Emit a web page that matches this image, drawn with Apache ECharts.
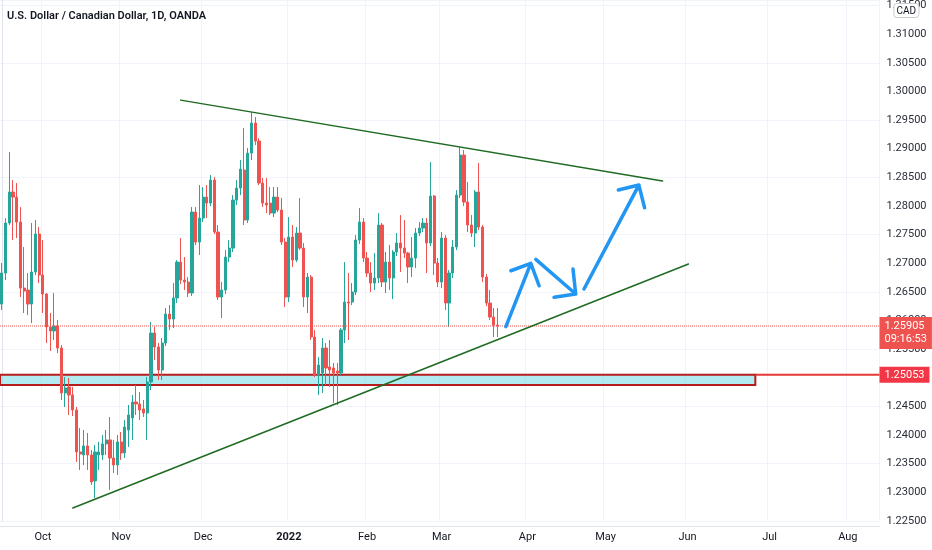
<!DOCTYPE html>
<html>
<head>
<meta charset="utf-8">
<title>USDCAD 1D</title>
<script src="https://cdn.jsdelivr.net/npm/echarts@6/dist/echarts.min.js"></script>
<style>
html, body { margin: 0; padding: 0; background: #fff; }
#chart { width: 932px; height: 550px; }
</style>
</head>
<body>
<div id="chart"></div>
<script>
// daily bars from 2021-09-16, 236 slots on the time scale (the last ones stay empty)
var firstDay = '2021-09-16';
var slotCount = 236;

var open = [1.26288,1.26829,1.27702,1.28243,1.28155,1.27719,1.26567,1.26532,1.26288,1.26847,
    1.27510,1.26794,1.26463,1.25887,1.25817,1.25904,1.25520,1.24735,1.24840,1.24700,
    1.24438,1.23705,1.23653,1.23810,1.23653,1.23199,1.23653,1.23653,1.23845,1.23915,
    1.23600,1.23478,1.23880,1.23688,1.24089,1.24298,1.24578,1.24543,1.24456,1.24386,
    1.24927,1.25782,1.25538,1.25136,1.25607,1.26113,1.26026,1.26393,1.27021,1.26707,
    1.26672,1.26480,1.27894,1.27370,1.27789,1.28155,1.28051,1.28452,1.27545,1.26410,
    1.26532,1.27108,1.27265,1.28103,1.28312,1.28627,1.27754,1.28923,1.29447,1.29133,
    1.28400,1.28051,1.28051,1.27876,1.28155,1.27929,1.27370,1.26410,1.27457,1.27056,
    1.27527,1.27265,1.26410,1.26759,1.25712,1.25049,1.25084,1.25520,1.25189,1.25171,
    1.25119,1.25084,1.25834,1.26323,1.26323,1.26497,1.27405,1.27719,1.27091,1.26829,
    1.26654,1.26742,1.27667,1.26672,1.27021,1.26742,1.27196,1.27353,1.27265,1.27178,
    1.26934,1.27091,1.27527,1.27614,1.27702,1.27353,1.28173,1.27004,1.26672,1.27440,
    1.26305,1.26829,1.27283,1.28190,1.28888,1.28068,1.27667,1.27527,1.28243,1.27632,
    1.26759,1.26305,1.26061,1.25921];
var close = [1.26829,1.27702,1.28243,1.28155,1.27719,1.26567,1.26515,1.26288,1.26847,1.27510,
    1.26794,1.26463,1.25887,1.25817,1.25904,1.25520,1.24735,1.24822,1.24700,1.24438,
    1.23705,1.23670,1.23810,1.23653,1.23182,1.23705,1.23705,1.23845,1.23915,1.23600,
    1.23478,1.23880,1.23688,1.24141,1.24351,1.24578,1.24543,1.24438,1.24386,1.24927,
    1.25782,1.25538,1.25136,1.25607,1.26113,1.26026,1.26393,1.27021,1.26707,1.26672,
    1.26480,1.27894,1.27370,1.27789,1.28155,1.28051,1.28452,1.27545,1.26410,1.26532,
    1.27108,1.27265,1.28103,1.28312,1.28644,1.27754,1.28923,1.29447,1.29133,1.28400,
    1.28051,1.28016,1.27876,1.28155,1.27929,1.27370,1.26410,1.27457,1.27056,1.27527,
    1.27265,1.26410,1.26759,1.25712,1.25049,1.25223,1.25520,1.25171,1.25136,1.25084,
    1.25084,1.25834,1.26323,1.26305,1.26497,1.27405,1.27719,1.27091,1.26829,1.26654,
    1.26742,1.27667,1.26672,1.27021,1.26742,1.27196,1.27353,1.27265,1.27178,1.26934,
    1.27091,1.27527,1.27614,1.27702,1.27353,1.28173,1.27004,1.26672,1.27440,1.26305,
    1.26829,1.27283,1.28190,1.28888,1.28068,1.27667,1.27527,1.28243,1.27632,1.26759,
    1.26305,1.26061,1.25921,1.25905];
var low = [1.26183,1.26707,1.27667,1.27405,1.27440,1.26410,1.26131,1.26096,1.25956,1.26794,
    1.26654,1.26131,1.25607,1.25468,1.25660,1.25433,1.24613,1.24490,1.24351,1.24333,
    1.23531,1.23391,1.23478,1.23391,1.23129,1.22902,1.23391,1.23566,1.23653,1.23042,
    1.23339,1.23304,1.23566,1.23600,1.23792,1.23915,1.24351,1.24264,1.24316,1.23915,
    1.24787,1.25311,1.24962,1.24962,1.25555,1.25834,1.25869,1.26305,1.26637,1.26532,
    1.26410,1.26428,1.27318,1.27143,1.27719,1.27789,1.27998,1.27510,1.26358,1.26044,
    1.26463,1.27021,1.27196,1.28016,1.28190,1.27667,1.27702,1.28801,1.29063,1.28365,
    1.27981,1.27876,1.27841,1.27806,1.27894,1.27318,1.26236,1.26323,1.26934,1.27021,
    1.27230,1.26236,1.26131,1.25660,1.25014,1.24700,1.24735,1.24874,1.24840,1.24560,
    1.24525,1.25049,1.25607,1.25660,1.26271,1.26445,1.27335,1.27021,1.26759,1.26497,
    1.26532,1.26654,1.26585,1.26480,1.26532,1.26375,1.27126,1.26847,1.27091,1.26654,
    1.26759,1.26916,1.27475,1.27545,1.26829,1.27300,1.26794,1.26585,1.26567,1.26183,
    1.25887,1.26742,1.27230,1.28138,1.27998,1.27545,1.27457,1.27283,1.27579,1.26672,
    1.26253,1.26009,1.25712,1.25712];
var high = [1.27004,1.27789,1.28941,1.28452,1.28400,1.27981,1.27283,1.26829,1.27702,1.27754,
    1.27632,1.27405,1.26480,1.26131,1.26480,1.26009,1.25573,1.25014,1.24997,1.24840,
    1.24490,1.24124,1.24089,1.24037,1.23740,1.23827,1.23880,1.24002,1.24089,1.24316,
    1.23915,1.24002,1.24054,1.24264,1.24525,1.24700,1.24874,1.24752,1.24613,1.25014,
    1.25974,1.25887,1.25607,1.25695,1.26218,1.26271,1.26654,1.27056,1.27440,1.27108,
    1.26759,1.27981,1.27981,1.28365,1.28330,1.28365,1.28539,1.28504,1.27667,1.26672,
    1.27230,1.27405,1.28190,1.28452,1.28801,1.29360,1.29011,1.29639,1.29552,1.29185,
    1.28487,1.28487,1.28330,1.28330,1.28330,1.28138,1.27440,1.27806,1.27667,1.27632,
    1.28138,1.27353,1.26829,1.26794,1.25834,1.25363,1.25695,1.25607,1.25660,1.25258,
    1.25258,1.25869,1.27021,1.26829,1.26654,1.27492,1.27963,1.27789,1.27196,1.27021,
    1.27178,1.27876,1.27702,1.27196,1.27318,1.27230,1.27527,1.27841,1.27754,1.27196,
    1.27457,1.27614,1.27719,1.27789,1.27789,1.28766,1.28190,1.27091,1.27545,1.27492,
    1.26881,1.27405,1.28278,1.29028,1.28976,1.28417,1.27841,1.28278,1.28749,1.27667,
    1.26812,1.26532,1.26218,1.26218];

var lastPrice = 1.25905;
var countdown = '09:16:53';

// drawings, as [bar index, price]
var upperTrend = [[47.96, 1.29848], [177.28, 1.28435]];
var lowerTrend = [[19.04, 1.22728], [184.24, 1.26986]];
var arrow1 = [[135.24, 1.25892], [141.94, 1.26998], [136.58, 1.26869], [141.94, 1.26998], [144.16, 1.26607]];
var arrow2 = [[143.28, 1.27068], [153.98, 1.26463], [148.17, 1.26405], [153.98, 1.26463], [153.26, 1.26899]];
var arrow3 = [[156.21, 1.26550], [170.93, 1.28365], [165.42, 1.28278], [170.93, 1.28365], [172.46, 1.27969]];
var zoneTop = 1.25053;
var zoneBottom = 1.24874;
var zoneStart = -0.5;
var zoneEnd = 202.18;

var monthNames = ['Jan','Feb','Mar','Apr','May','Jun','Jul','Aug','Sep','Oct','Nov','Dec'];

function weekdays(start, n) {
    var out = [];
    var d = new Date(start + 'T00:00:00Z');
    while (out.length < n) {
        var w = d.getUTCDay();
        if (w !== 0 && w !== 6) out.push(d.toISOString().slice(0, 10));
        d.setUTCDate(d.getUTCDate() + 1);
    }
    return out;
}

var dates = weekdays(firstDay, slotCount);
var monthStart = {};
for (var i = 1; i < dates.length; ++i) {
    if (dates[i].slice(0, 7) !== dates[i - 1].slice(0, 7)) monthStart[i] = true;
}
function isMonthStart(index) { return !!monthStart[index]; }

var candles = [];
for (var j = 0; j < open.length; ++j) {
    candles.push([open[j], close[j], low[j], high[j]]);
}

var green = '#1e6b22';
var blue = '#2196f3';

function drawLine(points, color, width) {
    return {
        type: 'line',
        xAxisIndex: 1,
        data: points,
        symbol: 'none',
        silent: true,
        z: 5,
        lineStyle: { color: color, width: width, cap: 'round', join: 'round' }
    };
}

var chart = echarts.init(document.getElementById('chart'));
chart.setOption({
    animation: false,
    backgroundColor: '#fff',
    textStyle: { fontFamily: 'Roboto, "Noto Sans", sans-serif' },
    title: [{
        text: 'U.S. Dollar / Canadian Dollar, 1D, OANDA',
        left: 4,
        top: 9,
        padding: [2, 3],
        textStyle: { fontSize: 11, fontWeight: 600, color: '#131722' }
    }, {
        text: 'CAD',
        right: 13,
        top: 3,
        padding: [3, 3, 2, 3],
        backgroundColor: '#fff',
        borderColor: '#c9cbd1',
        borderWidth: 1,
        borderRadius: 3,
        textStyle: { fontSize: 10, fontWeight: 'normal', color: '#131722' }
    }],
    grid: { left: -2, right: 52.5, top: 0, bottom: 29 },
    xAxis: [{
        type: 'category',
        data: dates,
        offset: 5,
        axisLine: { lineStyle: { color: '#e0e3eb' } },
        axisTick: { show: false },
        axisLabel: {
            interval: isMonthStart,
            margin: 6,
            fontSize: 11,
            color: '#131722',
            formatter: function (value) {
                var m = parseInt(value.slice(5, 7));
                if (m === 1) return '{b|' + value.slice(0, 4) + '}';
                return monthNames[m - 1];
            },
            rich: { b: { fontWeight: 'bold', fontSize: 11, color: '#131722' } }
        },
        splitLine: { show: true, interval: isMonthStart, lineStyle: { color: '#f0f3fa' } }
    }, {
        type: 'value',
        min: -0.5,
        max: slotCount - 0.5,
        show: false
    }],
    yAxis: [{
        type: 'value',
        position: 'right',
        min: 1.225,
        max: 1.31593,
        interval: 0.005,
        axisLine: { show: true, lineStyle: { color: '#e0e3eb' } },
        axisTick: { show: false },
        axisLabel: {
            margin: 7,
            fontSize: 11,
            color: '#2a2e39',
            showMaxLabel: false,
            formatter: function (v) { return v.toFixed(5); }
        },
        splitLine: { show: false }
    }, {
        type: 'value',
        position: 'right',
        min: 1.225,
        max: 1.31593,
        interval: 0.01,
        axisLine: { show: false },
        axisTick: { show: false },
        axisLabel: { show: false },
        splitLine: { show: true, lineStyle: { color: '#f0f3fa' } }
    }],
    series: [{
        type: 'candlestick',
        data: candles,
        barWidth: '72%',
        itemStyle: {
            color: '#26a69a',
            color0: '#ef5350',
            borderColor: '#26a69a',
            borderColor0: '#ef5350',
            borderWidth: 1
        }
    }, {
        // last price line with its price / countdown tag
        type: 'line',
        xAxisIndex: 1,
        data: [[-0.5, lastPrice], [slotCount - 0.5, lastPrice]],
        symbol: 'none',
        silent: true,
        z: 3,
        lineStyle: { color: '#ef5350', type: 'dotted', width: 1 },
        endLabel: {
            show: true,
            distance: 0,
            offset: [0, 7],
            formatter: lastPrice.toFixed(5) + '\n' + countdown,
            color: '#fff',
            backgroundColor: '#ef5350',
            padding: [3, 5, 3, 5],
            fontSize: 11,
            lineHeight: 13
        }
    }, {
        type: 'line',
        xAxisIndex: 1,
        data: [[zoneEnd, zoneTop], [slotCount - 0.5, zoneTop]],
        symbol: 'none',
        silent: true,
        z: 4,
        lineStyle: { color: '#e53935', width: 2 },
        endLabel: {
            show: true,
            distance: 0,
            formatter: zoneTop.toFixed(5),
            color: '#fff',
            backgroundColor: '#f23645',
            padding: [3, 5, 2, 5],
            fontSize: 11
        },
        markArea: {
            silent: true,
            itemStyle: {
                color: 'rgba(128, 222, 234, 0.6)',
                borderColor: '#b71c1c',
                borderWidth: 2
            },
            data: [[{ coord: [zoneStart, zoneTop] }, { coord: [zoneEnd, zoneBottom] }]]
        }
    },
    drawLine(upperTrend, green, 1.5),
    drawLine(lowerTrend, green, 1.5),
    drawLine(arrow1, blue, 3.5),
    drawLine(arrow2, blue, 3.5),
    drawLine(arrow3, blue, 3.5)]
});
</script>
</body>
</html>
